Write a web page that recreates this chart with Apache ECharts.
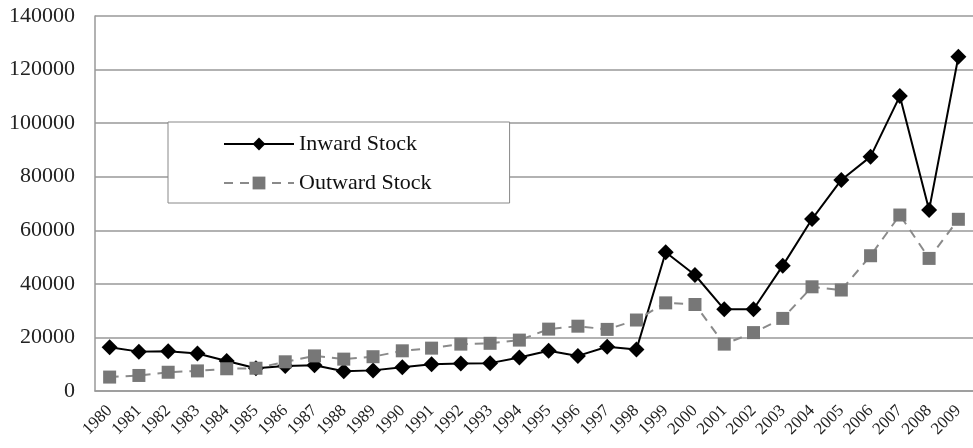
<!DOCTYPE html>
<html>
<head>
<meta charset="utf-8">
<script src="https://cdn.jsdelivr.net/npm/echarts@6/dist/echarts.min.js"></script>
<style>html,body{margin:0;padding:0;background:#fff}#c{width:973px;height:448px}</style>
</head>
<body>
<div id="c"></div>
<script>
var years = ['1980','1981','1982','1983','1984','1985','1986','1987','1988','1989','1990','1991','1992','1993','1994','1995','1996','1997','1998','1999','2000','2001','2002','2003','2004','2005','2006','2007','2008','2009'];
var inwardStock = [16300,14700,14800,14000,11200,8500,9300,9600,7400,7700,8900,10000,10300,10400,12500,15000,13100,16500,15500,51800,43300,30500,30500,46800,64200,78800,87500,110100,67600,124800];
var outwardStock = [5200,5800,7000,7500,8300,8500,10900,13100,11900,12800,15000,16000,17500,17800,19000,23100,24200,23000,26500,32900,32300,17500,21800,27100,38900,37700,50500,65700,49500,64100];
var yTicks = [0,20000,40000,60000,80000,100000,120000,140000];

var serif = '"Liberation Serif", "DejaVu Serif", serif';
var chart = echarts.init(document.getElementById('c'));
chart.setOption({
  animation: false,
  backgroundColor: '#fff',
  grid: {left: 95, right: -7, top: 16, bottom: 57, containLabel: false},
  legend: {
    orient: 'vertical',
    left: 168, top: 122,
    padding: [11, 78, 9, 55],
    itemGap: 17,
    itemWidth: 70, itemHeight: 16,
    backgroundColor: '#fff',
    borderColor: '#888', borderWidth: 1,
    textStyle: {fontFamily: serif, fontSize: 22, color: '#111'},
    data: ['Inward Stock', 'Outward Stock']
  },
  xAxis: {
    type: 'category',
    data: years,
    boundaryGap: true,
    axisLine: {lineStyle: {color: '#999', width: 1.5}},
    axisTick: {inside: true, length: 5, lineStyle: {color: '#888'}},
    axisLabel: {rotate: 45, margin: 17, fontFamily: serif, fontSize: 17, color: '#222', interval: 0}
  },
  yAxis: {
    type: 'value',
    min: yTicks[0], max: yTicks[yTicks.length - 1], interval: 20000,
    axisLine: {show: true, lineStyle: {color: '#999', width: 1.5}},
    axisTick: {show: false},
    splitLine: {lineStyle: {color: '#999', width: 1.5}},
    axisLabel: {margin: 20, fontFamily: serif, fontSize: 22, color: '#222',
      formatter: function (v) { return String(v); }}
  },
  series: [
    {
      name: 'Inward Stock', type: 'line', data: inwardStock,
      symbol: 'diamond', symbolSize: 16,
      itemStyle: {color: '#000'},
      lineStyle: {color: '#000', width: 2}
    },
    {
      name: 'Outward Stock', type: 'line', data: outwardStock,
      symbol: 'rect', symbolSize: 13,
      itemStyle: {color: '#777'},
      lineStyle: {color: '#8a8a8a', width: 2, type: [9, 7]}
    }
  ]
});
</script>
</body>
</html>
